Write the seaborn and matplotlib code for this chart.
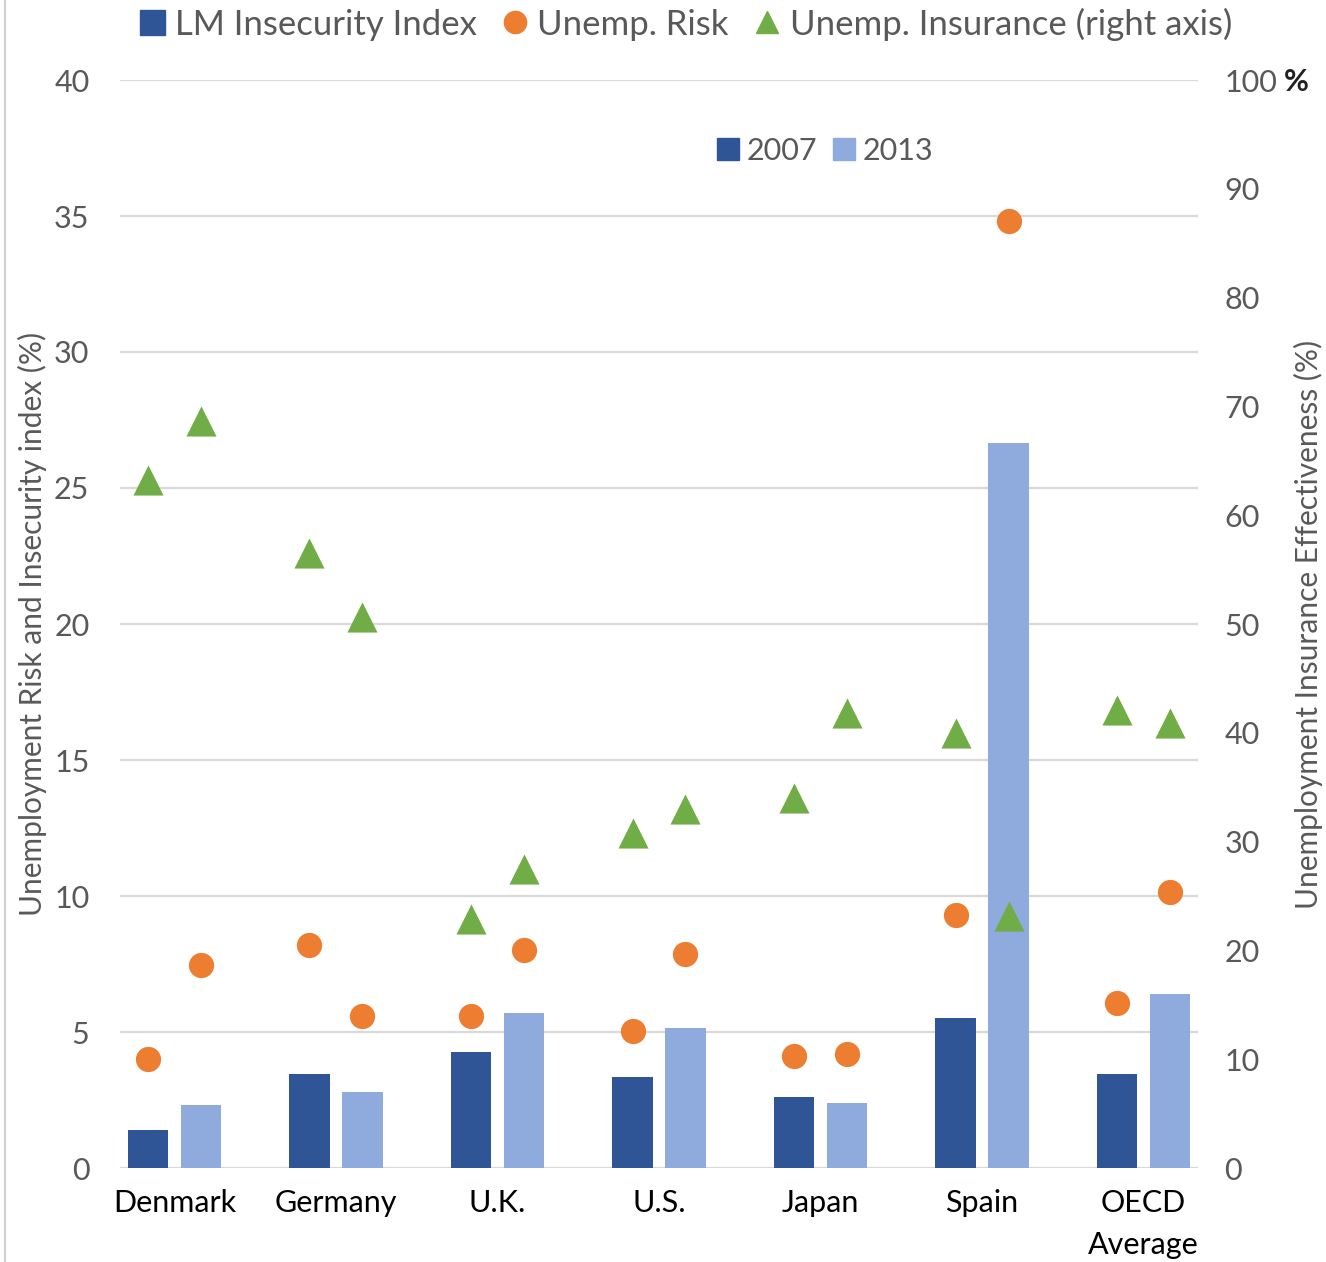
import matplotlib
matplotlib.use("Agg")
import matplotlib.pyplot as plt
from matplotlib.lines import Line2D
import numpy as np
import pandas as pd
import seaborn as sns

# ---- data -------------------------------------------------------------
countries = ["Denmark", "Germany", "U.K.", "U.S.", "Japan", "Spain", "OECD\nAverage"]
years = ["2007", "2013"]

insecurity_2007 = [1.4, 3.45, 4.25, 3.35, 2.6, 5.5, 3.45]
insecurity_2013 = [2.3, 2.8, 5.7, 5.15, 2.4, 26.65, 6.4]

risk_2007 = [4.0, 8.2, 5.6, 5.05, 4.1, 9.3, 6.05]
risk_2013 = [7.45, 5.6, 8.0, 7.85, 4.2, 34.8, 10.15]

insurance_2007 = [63.2, 56.5, 22.9, 30.8, 34.0, 40.0, 42.1]
insurance_2013 = [68.7, 50.6, 27.5, 33.0, 41.8, 23.2, 40.9]

left_ticks = [0, 5, 10, 15, 20, 25, 30, 35, 40]
right_ticks = [0, 10, 20, 30, 40, 50, 60, 70, 80, 90, 100]

# ---- styling ----------------------------------------------------------
sns.set_theme(style="white")
plt.rcParams["font.family"] = ["Lato", "DejaVu Sans"]

DARK_BLUE = "#2F5597"
LIGHT_BLUE = "#8FAADC"
ORANGE = "#ED7D31"
GREEN = "#70AD47"
GRID = "#D9D9D9"
TICK = "#595959"

W, H = 1326, 1262
fig = plt.figure(figsize=(W / 100, H / 100), dpi=100)
ax = fig.add_axes([120 / W, 1 - 1168 / H, 1078 / W, 1088 / H])

n = len(countries)
bars = pd.DataFrame({
    "country": countries * 2,
    "year": [years[0]] * n + [years[1]] * n,
    "value": insecurity_2007 + insecurity_2013,
})

bar_width = 0.656
sns.barplot(data=bars, x="country", y="value", hue="year", order=countries,
            hue_order=years, palette=[DARK_BLUE, LIGHT_BLUE], width=bar_width,
            gap=0.24, saturation=1, legend=False, ax=ax, linewidth=0)

# marker positions follow the dodged bars
half = bar_width / 4
codes = np.arange(n)
pts = pd.DataFrame({
    "x": np.concatenate([codes - half, codes + half]),
    "risk": risk_2007 + risk_2013,
    "insurance": insurance_2007 + insurance_2013,
})

sns.scatterplot(data=pts, x="x", y="risk", ax=ax, color=ORANGE, marker="o",
                s=330, linewidth=0, zorder=5)

ax2 = ax.twinx()
sns.scatterplot(data=pts, x="x", y="insurance", ax=ax2, color=GREEN, marker="^",
                s=470, linewidth=0, zorder=5)

# ---- axes -------------------------------------------------------------
ax.set_xlim(-0.337, n - 1 + 0.337)
ax.set_ylim(0, 40)
ax2.set_ylim(0, 100)
ax.set_yticks(left_ticks)
ax2.set_yticks(right_ticks)
ax2.set_yticklabels([str(t) for t in right_ticks])
ax.set_xticks(codes)
ax.set_xticklabels(countries, fontsize=22, color="black", linespacing=1.6)

ax.grid(axis="y", color=GRID, linewidth=1.6)
ax.set_axisbelow(True)
ax2.grid(False)
for a in (ax, ax2):
    for s in a.spines.values():
        s.set_visible(False)
ax.tick_params(axis="x", length=0, pad=15)
ax.tick_params(axis="y", length=0, pad=22, labelsize=22, labelcolor=TICK)
ax2.tick_params(axis="y", length=0, pad=19, labelsize=22, labelcolor=TICK)

ax.set_xlabel("")
ax.set_ylabel("Unemployment Risk and Insecurity index (%)", fontsize=21.5,
              color=TICK, labelpad=5)
ax2.set_ylabel("Unemployment Insurance Effectiveness (%)", fontsize=21.5,
               color=TICK, labelpad=12)

fig.text(1284 / W, 1 - 82 / H, "%", fontsize=22, fontweight="bold",
         color="#222222", va="center", ha="left")

# ---- legends ----------------------------------------------------------
main_handles = [
    Line2D([], [], marker="s", linestyle="", color=DARK_BLUE, markersize=18),
    Line2D([], [], marker="o", linestyle="", color=ORANGE, markersize=16),
    Line2D([], [], marker="^", linestyle="", color=GREEN, markersize=16),
]
fig.legend(main_handles, ["LM Insecurity Index", "Unemp. Risk",
                          "Unemp. Insurance (right axis)"],
           loc="center", bbox_to_anchor=(686 / W, 1 - 24 / H), ncol=3,
           frameon=False, fontsize=25, handlelength=0.7, handletextpad=0.3,
           columnspacing=0.75, labelcolor=TICK)

year_handles = [
    Line2D([], [], marker="s", linestyle="", color=DARK_BLUE, markersize=16),
    Line2D([], [], marker="s", linestyle="", color=LIGHT_BLUE, markersize=16),
]
fig.legend(year_handles, years, loc="center",
           bbox_to_anchor=(826 / W, 1 - 151 / H), ncol=2, frameon=False,
           fontsize=22, handlelength=0.6, handletextpad=0.3,
           columnspacing=0.6, labelcolor=TICK)

# page edge on the left
fig.add_artist(Line2D([5 / W, 5 / W], [0, 1], transform=fig.transFigure,
                      color="#D0D0D0", linewidth=1.5))

fig.savefig("out.png", dpi=100, facecolor="white")
